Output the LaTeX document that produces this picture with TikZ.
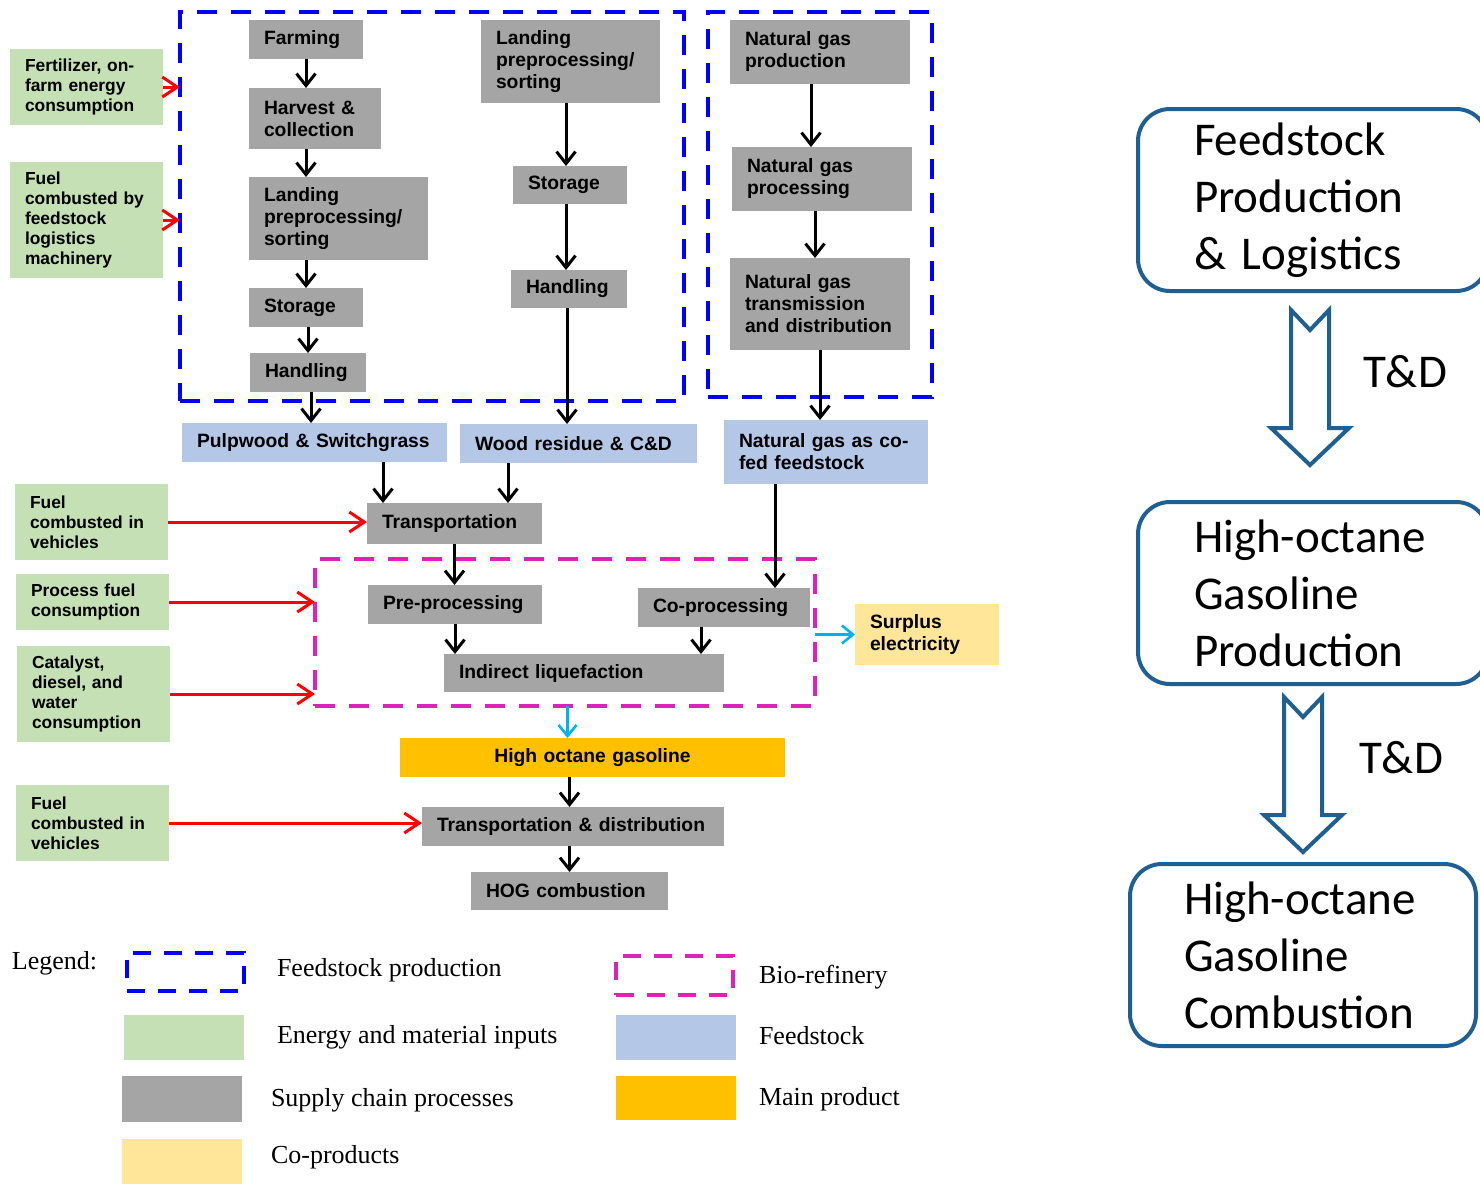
\documentclass[tikz,border=0pt]{standalone}
\usepackage{fontspec}
\setmainfont{Liberation Serif}
\newfontfamily\arialfont{Liberation Sans}
\newfontfamily\calibfont{Carlito}
\usepackage{tikz}
\usepackage{xcolor}
\usetikzlibrary{arrows.meta,calc}

\definecolor{inputgreen}{HTML}{C5E0B4}
\definecolor{procgray}{HTML}{A5A5A5}
\definecolor{feedblue}{HTML}{B4C7E7}
\definecolor{mainorange}{HTML}{FFC000}
\definecolor{coyellow}{HTML}{FFE699}
\definecolor{fsblue}{HTML}{0000FF}
\definecolor{biomag}{HTML}{DD22BB}
\definecolor{flowcyan}{HTML}{00B0F0}
\definecolor{stageblue}{HTML}{1F5F91}

\newcommand{\procfont}{\arialfont\bfseries\fontsize{19.3}{22}\selectfont}
\newcommand{\inputfont}{\arialfont\bfseries\fontsize{17.4}{20}\selectfont}
\newcommand{\legendfont}{\fontsize{26}{30}\selectfont}
\newcommand{\stagefont}{\calibfont\fontsize{47}{57}\selectfont}
% hollow T&D arrow: #1 = centre x, #2 = top y
\newcommand{\tdarrow}[2]{%
  \draw[tdshape] (#1-19,#2) -- (#1,#2+20) -- (#1+19,#2) -- (#1+19,#2+118)
    -- (#1+39,#2+118) -- (#1,#2+155) -- (#1-39,#2+118) -- (#1-19,#2+118) -- cycle;}
\exhyphenpenalty=10000
\hyphenpenalty=10000

\begin{document}
\begin{tikzpicture}[x=1pt, y=-1pt,
  every node/.style={outer sep=0pt},
  box/.style 2 args={text width=#1pt, minimum height=#2pt},
  cell/.style={anchor=north west, inner xsep=15pt, inner ysep=0pt, align=left},
  proc/.style={cell, fill=procgray, font=\procfont},
  feed/.style={cell, fill=feedblue, font=\procfont},
  input/.style={cell, fill=inputgreen, font=\inputfont},
  region/.style={anchor=north west, inner sep=0pt, line width=4.5pt, dash pattern=on 20pt off 14pt},
  swatch/.style={anchor=north west, inner sep=0pt, minimum width=120pt},
  legtext/.style={anchor=west, inner sep=0pt, font=\legendfont},
  stage/.style={anchor=north west, draw=stageblue, line width=4pt, rounded corners=32pt,
    inner xsep=56pt, inner ysep=0pt, align=left, font=\stagefont, text width=238pt, minimum height=182pt},
  tdshape/.style={draw=stageblue, line width=4pt, line join=miter},
  flow/.style={-{Straight Barb[length=12pt,width=19pt]}, line width=3pt},
  feedin/.style={-{Straight Barb[length=15pt,width=20pt]}, red, line width=3pt},
  outflow/.style={-{Straight Barb[length=11pt,width=18pt]}, flowcyan, line width=2.6pt}]
\useasboundingbox (0,0) rectangle (1480,1184);
\clip (0,0) rectangle (1480,1184);

% feedstock production regions
\node[region, draw=fsblue, minimum width=504pt, minimum height=389pt] (fsl) at (180,12) {};
\node[region, draw=fsblue, minimum width=224pt, minimum height=385pt] (fsr) at (708,12) {};
\node[region, draw=biomag, minimum width=500pt, minimum height=147pt] (bio) at (315,559) {};

% energy and material inputs
\node[input, box={123}{76}] (fert) at (10,49) {Fertilizer, on-\\farm energy\\consumption};
\node[input, box={123}{116}] (fuelA) at (10,162) {Fuel\\combusted by\\feedstock\\logistics\\machinery};
\node[input, box={123}{76}] (fuelB) at (15,484) {Fuel\\combusted in\\vehicles};
\node[input, box={123}{56}] (procfuel) at (16,574) {Process fuel\\consumption};
\node[input, box={123}{96}] (cat) at (17,646) {Catalyst,\\diesel, and\\water\\consumption};
\node[input, box={123}{76}] (fuelC) at (16,785) {Fuel\\combusted in\\vehicles};

% pulpwood & switchgrass chain
\node[proc, box={84}{39}] (farm) at (249,20) {Farming};
\node[proc, box={102}{61}] (harv) at (249,88) {Harvest \&\\collection};
\node[proc, box={149}{83}] (landA) at (249,177) {Landing\\preprocessing/\\sorting};
\node[proc, box={84}{39}] (storA) at (249,288) {Storage};
\node[proc, box={86}{39}] (handA) at (250,353) {Handling};

% wood residue chain
\node[proc, box={149}{83}] (landB) at (481,20) {Landing\\preprocessing/\\sorting};
\node[proc, box={84}{38}] (storB) at (513,166) {Storage};
\node[proc, box={86}{38}] (handB) at (511,270) {Handling};

% natural gas chain
\node[proc, box={150}{64}] (ngprod) at (730,20) {Natural gas\\production};
\node[proc, box={150}{64}] (ngproc) at (732,147) {Natural gas\\processing};
\node[proc, box={150}{92}] (ngtd) at (730,258) {Natural gas\\transmission\\and distribution};

% feedstocks
\node[feed, box={235}{39}] (pulp) at (182,423) {Pulpwood \& Switchgrass};
\node[feed, box={207}{39}] (wood) at (460,424) {Wood residue \& C\&D};
\node[feed, box={174}{64}] (ngfeed) at (724,420) {Natural gas as co-\\fed feedstock};

% refinery and downstream
\node[proc, box={145}{41}] (trans) at (367,503) {Transportation};
\node[proc, box={144}{39}] (pre) at (368,585) {Pre-processing};
\node[proc, box={142}{39}] (cop) at (638,588) {Co-processing};
\node[proc, box={250}{38}] (indir) at (444,654) {Indirect liquefaction};
\node[cell, fill=mainorange, font=\procfont, align=center, box={355}{39}] (gas) at (400,738) {High octane gasoline};
\node[cell, fill=coyellow, font=\procfont, box={114}{61}] (surplus) at (855,604) {Surplus\\electricity};
\node[proc, box={272}{39}] (td) at (422,807) {Transportation \& distribution};
\node[proc, box={167}{38}] (hog) at (471,872) {HOG combustion};

% process flows
\draw[flow] (farm.south) -- (farm.south |- harv.north);
\draw[flow] (farm.south |- harv.south) -- (farm.south |- landA.north);
\draw[flow] (storA.north |- landA.south) -- (storA.north);
\draw[flow] (handA.north |- storA.south) -- (handA.north);
\draw[flow] ([xshift=3pt]handA.south) -- ([xshift=3pt]handA.south |- pulp.north);
\draw[flow] ([xshift=-4pt]storB.north |- landB.south) -- ([xshift=-4pt]storB.north);
\draw[flow] ([xshift=-4pt]storB.south) -- ([xshift=-4pt]storB.south |- handB.north);
\draw[flow] ([xshift=-2pt]handB.south) -- ([xshift=-2pt]handB.south |- wood.north);
\draw[flow] ([xshift=-9pt]ngprod.south) -- ([xshift=-9pt]ngprod.south |- ngproc.north);
\draw[flow] ([xshift=-7pt]ngproc.south) -- ([xshift=-7pt]ngproc.south |- ngtd.north);
\draw[flow] (ngtd.south) -- (ngtd.south |- ngfeed.north);
\draw[flow] ([xshift=16pt]trans.north west |- pulp.south) -- ([xshift=16pt]trans.north west);
\draw[flow] ([xshift=-34pt]trans.north east |- wood.south) -- ([xshift=-34pt]trans.north east);
\draw[flow] ([xshift=-35pt]cop.north east |- ngfeed.south) -- ([xshift=-35pt]cop.north east);
\draw[flow] (trans.south) -- (trans.south |- pre.north);
\draw[flow] (pre.south) -- (pre.south |- indir.north);
\draw[flow] ([xshift=-23pt]cop.south) -- ([xshift=-23pt]cop.south |- indir.north);
\draw[flow] (hog.north |- gas.south) -- (hog.north |- td.north);
\draw[flow] (hog.north |- td.south) -- (hog.north);
\draw[outflow] ([xshift=-2pt]hog.north |- bio.south) -- ([xshift=-2pt]hog.north |- gas.north);
\draw[outflow] (bio.east |- surplus.west) -- (surplus.west);

% inputs
\draw[feedin] (fert.east) -- (fert.east -| fsl.west);
\draw[feedin] (fuelA.east) -- (fuelA.east -| fsl.west);
\draw[feedin] (fuelB.east) -- (fuelB.east -| trans.west);
\draw[feedin] (procfuel.east) -- (procfuel.east -| bio.west);
\draw[feedin] (cat.east) -- (cat.east -| bio.west);
\draw[feedin] (fuelC.east) -- (fuelC.east -| td.west);

% legend
\node[legtext] (lg) at (12,963) {Legend:};
\node[region, draw=fsblue, minimum width=117pt, minimum height=38pt, dash pattern=on 18pt off 13pt] (lgfs) at (127,953) {};
\node[region, draw=biomag, minimum width=117pt, minimum height=39pt, dash pattern=on 18pt off 13pt] (lgbio) at (616,956) {};
\node[swatch, fill=inputgreen, minimum height=45pt] (lgin) at (124,1015) {};
\node[swatch, fill=feedblue, minimum height=45pt] (lgfeed) at (616,1015) {};
\node[swatch, fill=procgray, minimum height=46pt] (lgproc) at (122,1076) {};
\node[swatch, fill=mainorange, minimum height=44pt] (lgmain) at (616,1076) {};
\node[swatch, fill=coyellow, minimum height=45pt] (lgco) at (122,1139) {};
\node[legtext] (lgfst) at (277,970) {Feedstock production};
\node[legtext] (lgbiot) at (759,977) {Bio-refinery};
\node[legtext] (lgint) at (277,1037) {Energy and material inputs};
\node[legtext] (lgfeedt) at (759,1036) {Feedstock};
\node[legtext] (lgproct) at (271,1100) {Supply chain processes};
\node[legtext] (lgmaint) at (759,1099) {Main product};
\node[legtext] (lgcot) at (271,1157) {Co-products};

% life-cycle stages
\node[stage] (stA) at (1138,109) {Feedstock\\Production\\\& Logistics};
\node[stage] (stB) at (1138,502) {High-octane\\Gasoline\\Production};
\node[stage, inner xsep=54pt] (stC) at (1130,864) {High-octane\\Gasoline\\Combustion};
\tdarrow{1310}{310}
\tdarrow{1303}{697}
\node[font=\stagefont, inner sep=0pt] (tdA) at (1405,372) {T\&D};
\node[font=\stagefont, inner sep=0pt] (tdB) at (1401,758) {T\&D};
\end{tikzpicture}
\end{document}
